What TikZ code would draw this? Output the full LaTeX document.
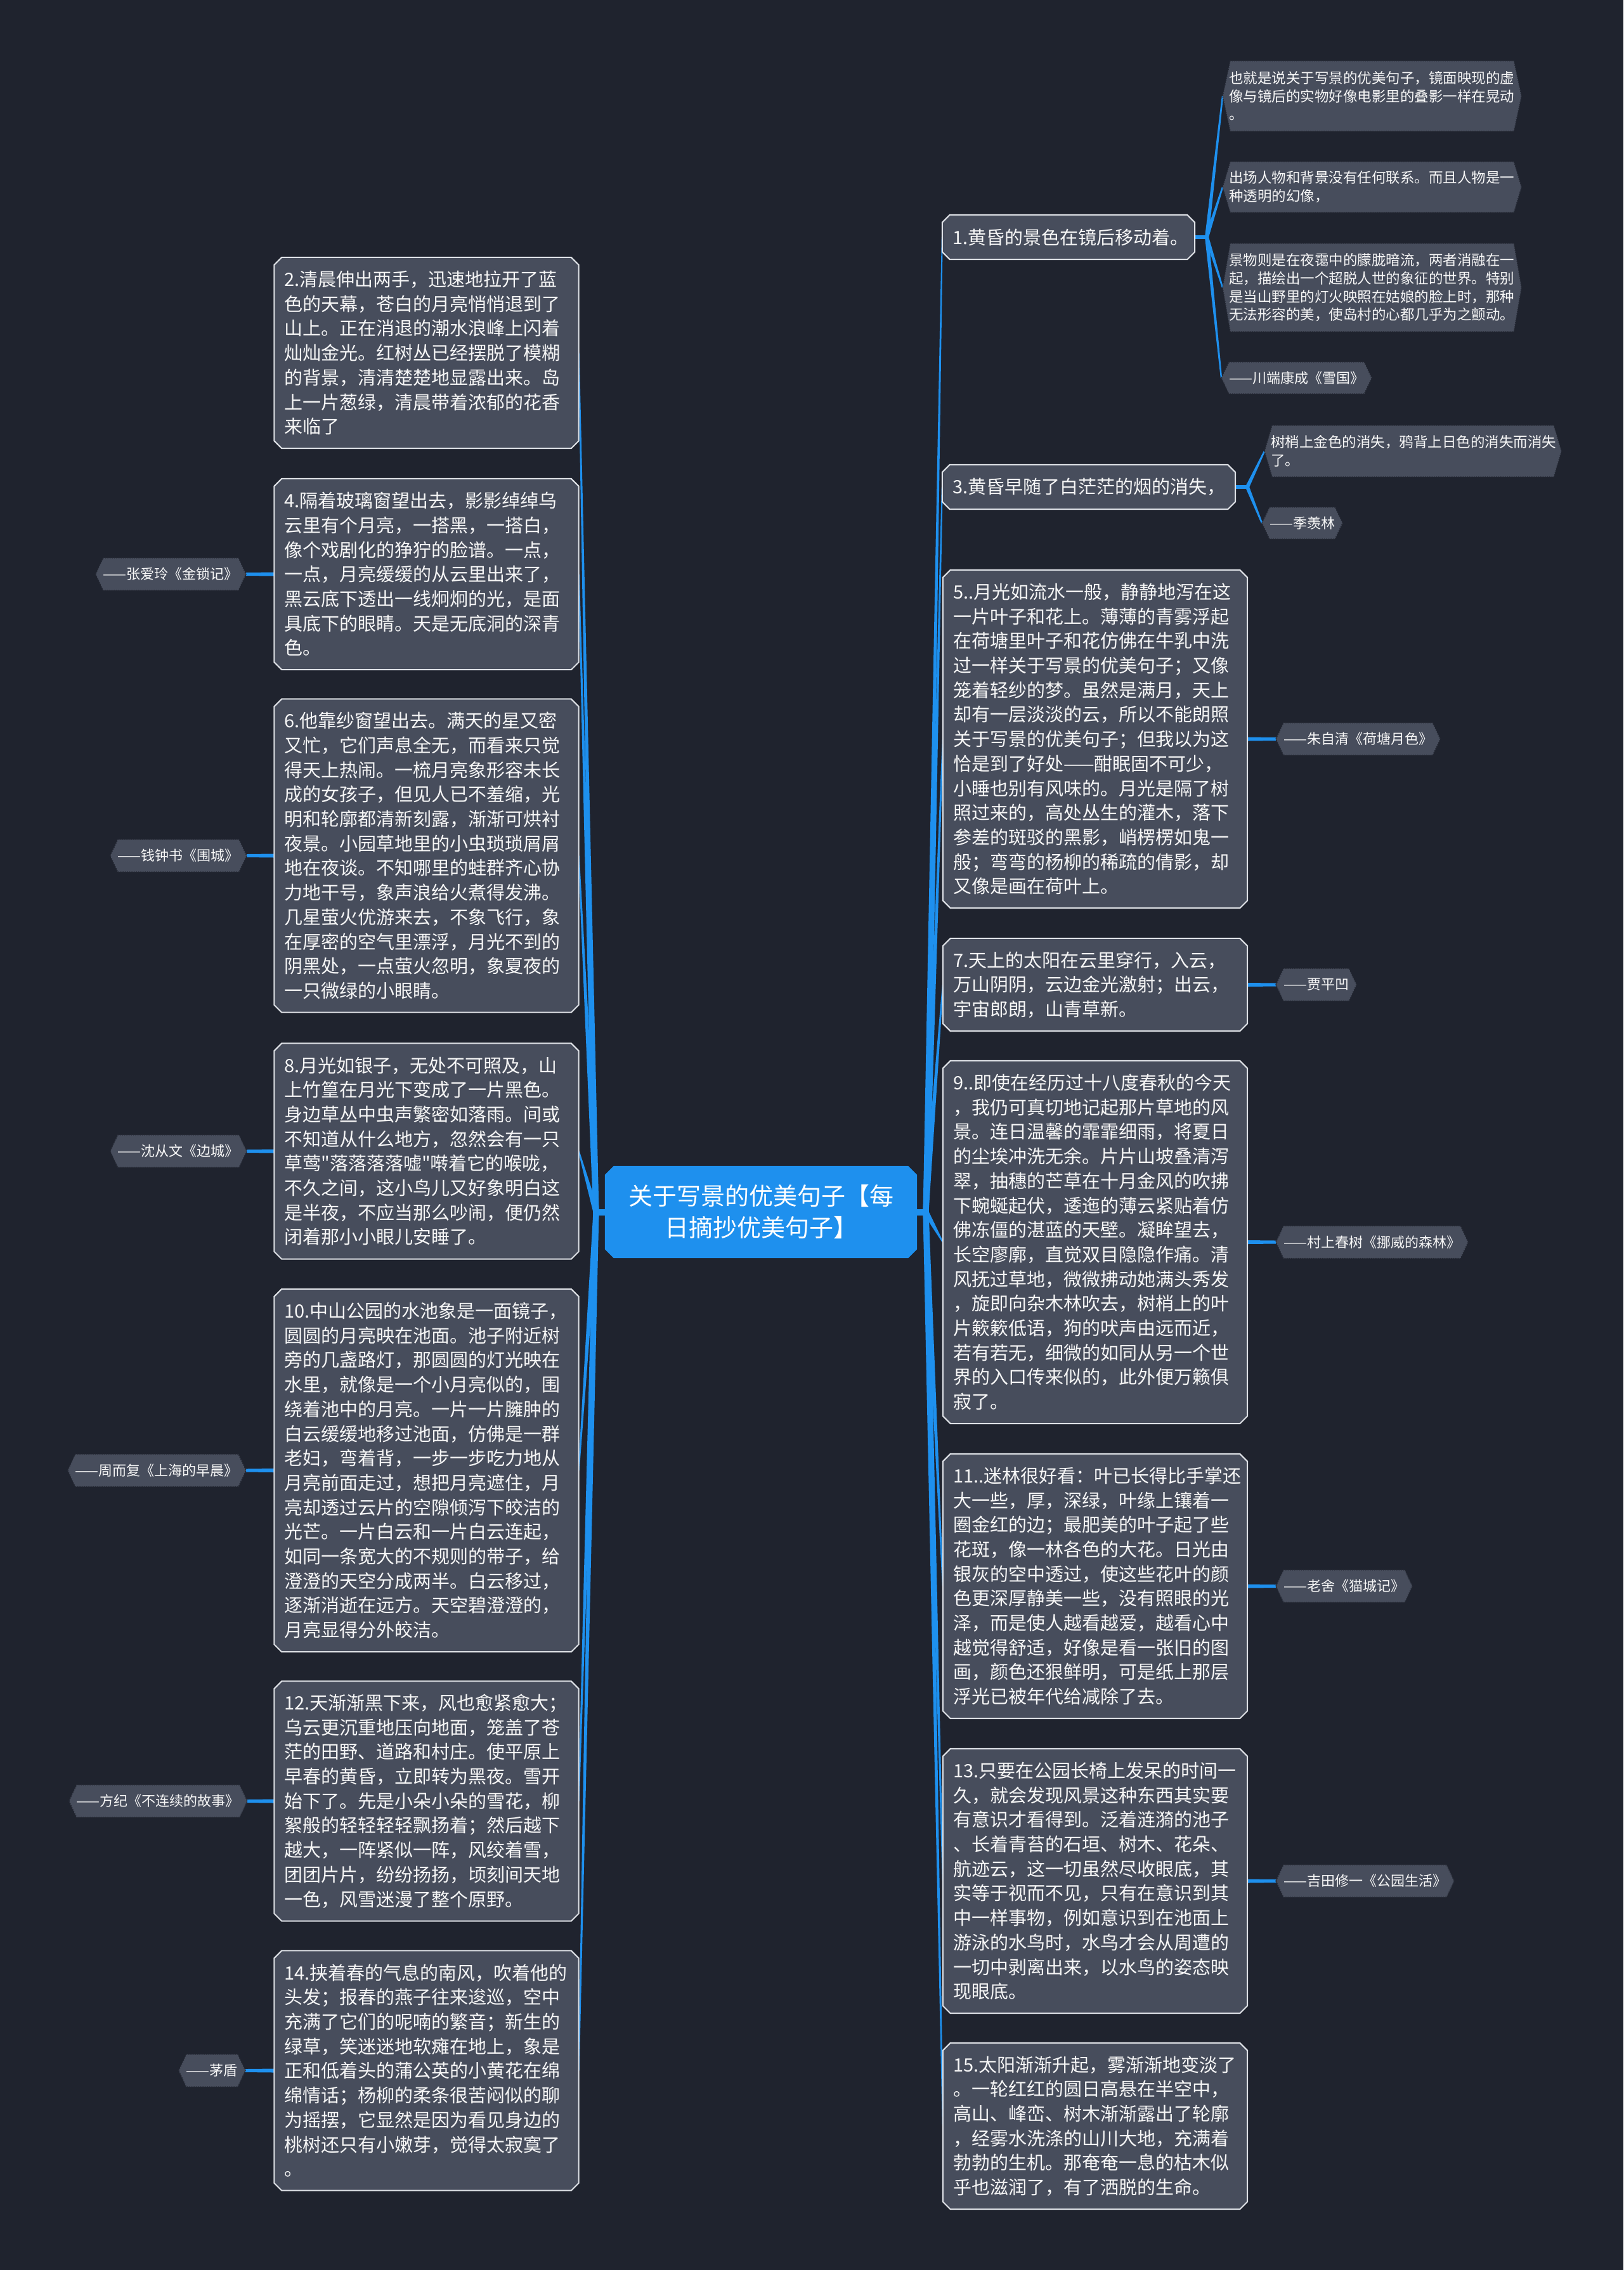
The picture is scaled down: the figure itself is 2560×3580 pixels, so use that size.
\documentclass[tikz,border=0pt]{standalone}
\usepackage{fontspec}
\setmainfont{Noto Sans CJK SC}[Ligatures=TeXOff]
\usetikzlibrary{calc}
\pgfdeclarelayer{back}
\pgfdeclarelayer{mid}
\pgfsetlayers{back,mid,main}
\definecolor{bgc}{RGB}{31,35,46}
\definecolor{boxc}{RGB}{71,77,92}
\definecolor{framec}{RGB}{222,225,230}
\definecolor{bluec}{RGB}{30,144,238}
\definecolor{dotc}{RGB}{36,40,51}
\definecolor{txt}{RGB}{246,246,246}
\newcommand\bframe[3]{%
 \begin{pgfonlayer}{mid}
 \path[#3] ([xshift=#2]#1.north west) -- ([xshift=-#2]#1.north east) -- ([yshift=-#2]#1.north east) -- ([yshift=#2]#1.south east) -- ([xshift=-#2]#1.south east) -- ([xshift=#2]#1.south west) -- ([yshift=#2]#1.south west) -- ([yshift=-#2]#1.north west) -- cycle;
 \end{pgfonlayer}}
\newcommand\hframe[1]{%
 \begin{pgfonlayer}{mid}
 \path[hexf] (#1.west) -- ([xshift=12pt]#1.north west) -- ([xshift=-12pt]#1.north east) -- (#1.east) -- ([xshift=-12pt]#1.south east) -- ([xshift=12pt]#1.south west) -- cycle;
 \end{pgfonlayer}}
\newcommand\tconn[4]{%
 \begin{pgfonlayer}{back}
 \fill[bluec] ($(#1)!#3!90:(#2)$) -- ($(#2)!#4!-90:(#1)$) -- ($(#2)!#4!90:(#1)$) -- ($(#1)!#3!-90:(#2)$) -- cycle;
 \end{pgfonlayer}}
\tikzset{
 frame/.style={fill=boxc, draw=framec, line width=2pt},
 cframe/.style={fill=bluec},
 hexf/.style={fill=boxc, draw=dotc, line width=1.5pt, dotted},
 boxt/.style={inner xsep=16pt, inner ysep=0pt, text width=448pt, align=left, text=txt, font=\fontsize{29}{38.7}\selectfont, minimum height=#1},
 leaft/.style={inner xsep=10pt, inner ysep=0pt, text width=451pt, align=left, text=txt, font=\fontsize{22.5}{28.6}\selectfont, minimum height=#1},
 labt/.style={inner xsep=12pt, inner ysep=0pt, text=txt, font=\fontsize{22}{28.6}\selectfont, minimum height=51pt},
}
\begin{document}
\begin{tikzpicture}[x=1pt,y=-1pt]
\useasboundingbox (0,0) rectangle (2560,3580);
\begin{pgfonlayer}{back}
\fill[bgc] (0,0) rectangle (2560,3580);
\end{pgfonlayer}

% central topic
\node[inner sep=0pt, minimum width=492pt, minimum height=145pt, text width=440pt, align=center, text=white, font=\fontsize{38}{50}\selectfont] (c) at (1200,1911.5) {关于写景的优美句子【每\\日摘抄优美句子】};
\bframe{c}{14pt}{cframe}
\coordinate (rootL) at (940,1911.5);
\coordinate (rootR) at (1460,1911.5);

% left boxes
\node[boxt=301pt] (b2) at (672.5,556.5) {2.清晨伸出两手，迅速地拉开了蓝\\色的天幕，苍白的月亮悄悄退到了\\山上。正在消退的潮水浪峰上闪着\\灿灿金光。红树丛已经摆脱了模糊\\的背景，清清楚楚地显露出来。岛\\上一片葱绿，清晨带着浓郁的花香\\来临了};
\node[boxt=301pt] (b4) at (672.5,905.5) {4.隔着玻璃窗望出去，影影绰绰乌\\云里有个月亮，一搭黑，一搭白，\\像个戏剧化的狰狞的脸谱。一点，\\一点，月亮缓缓的从云里出来了，\\黑云底下透出一线炯炯的光，是面\\具底下的眼睛。天是无底洞的深青\\色。};
\node[boxt=494pt] (b6) at (672.5,1349.5) {6.他靠纱窗望出去。满天的星又密\\又忙，它们声息全无，而看来只觉\\得天上热闹。一梳月亮象形容未长\\成的女孩子，但见人已不羞缩，光\\明和轮廓都清新刻露，渐渐可烘衬\\夜景。小园草地里的小虫琐琐屑屑\\地在夜谈。不知哪里的蛙群齐心协\\力地干号，象声浪给火煮得发沸。\\几星萤火优游来去，不象飞行，象\\在厚密的空气里漂浮，月光不到的\\阴黑处，一点萤火忽明，象夏夜的\\一只微绿的小眼睛。};
\node[boxt=340pt] (b8) at (672.5,1815.5) {8.月光如银子，无处不可照及，山\\上竹篁在月光下变成了一片黑色。\\身边草丛中虫声繁密如落雨。间或\\不知道从什么地方，忽然会有一只\\草莺"落落落落嘘"啭着它的喉咙，\\不久之间，这小鸟儿又好象明白这\\是半夜，不应当那么吵闹，便仍然\\闭着那小小眼儿安睡了。};
\node[boxt=572pt] (b10) at (672.5,2319) {10.中山公园的水池象是一面镜子，\\圆圆的月亮映在池面。池子附近树\\旁的几盏路灯，那圆圆的灯光映在\\水里，就像是一个小月亮似的，围\\绕着池中的月亮。一片一片臃肿的\\白云缓缓地移过池面，仿佛是一群\\老妇，弯着背，一步一步吃力地从\\月亮前面走过，想把月亮遮住，月\\亮却透过云片的空隙倾泻下皎洁的\\光芒。一片白云和一片白云连起，\\如同一条宽大的不规则的带子，给\\澄澄的天空分成两半。白云移过，\\逐渐消逝在远方。天空碧澄澄的，\\月亮显得分外皎洁。};
\node[boxt=378pt] (b12) at (672.5,2840.5) {12.天渐渐黑下来，风也愈紧愈大；\\乌云更沉重地压向地面，笼盖了苍\\茫的田野、道路和村庄。使平原上\\早春的黄昏，立即转为黑夜。雪开\\始下了。先是小朵小朵的雪花，柳\\絮般的轻轻轻轻飘扬着；然后越下\\越大，一阵紧似一阵，风绞着雪，\\团团片片，纷纷扬扬，顷刻间天地\\一色，风雪迷漫了整个原野。};
\node[boxt=378pt] (b14) at (672.5,3265.5) {14.挟着春的气息的南风，吹着他的\\头发；报春的燕子往来逡巡，空中\\充满了它们的呢喃的繁音；新生的\\绿草，笑迷迷地软瘫在地上，象是\\正和低着头的蒲公英的小黄花在绵\\绵情话；杨柳的柔条很苦闷似的聊\\为摇摆，它显然是因为看见身边的\\桃树还只有小嫩芽，觉得太寂寞了\\。};
\foreach \n in {b2,b4,b6,b8,b10,b12,b14} {\bframe{\n}{12pt}{frame}}

% left labels
\node[labt, anchor=east] (l4) at (388,905.5) {——张爱玲《金锁记》};
\node[labt, anchor=east] (l6) at (389,1349.5) {——钱钟书《围城》};
\node[labt, anchor=east] (l8) at (389,1815.5) {——沈从文《边城》};
\node[labt, anchor=east] (l10) at (388,2319) {——周而复《上海的早晨》};
\node[labt, anchor=east] (l12) at (390,2840.5) {——方纪《不连续的故事》};
\node[labt, anchor=east] (l14) at (387,3265.5) {——茅盾};
\foreach \n in {l4,l6,l8,l10,l12,l14} {\hframe{\n}}

% right boxes
\node[boxt=70pt, text width=366pt] (b1) at (1685,374) {1.黄昏的景色在镜后移动着。};
\node[boxt=70pt, text width=430pt] (b3) at (1717,768) {3.黄昏早随了白茫茫的烟的消失，};
\node[boxt=533pt] (b5) at (1727,1165.5) {5..月光如流水一般，静静地泻在这\\一片叶子和花上。薄薄的青雾浮起\\在荷塘里叶子和花仿佛在牛乳中洗\\过一样关于写景的优美句子；又像\\笼着轻纱的梦。虽然是满月，天上\\却有一层淡淡的云，所以不能朗照\\关于写景的优美句子；但我以为这\\恰是到了好处——酣眠固不可少，\\小睡也别有风味的。月光是隔了树\\照过来的，高处丛生的灌木，落下\\参差的斑驳的黑影，峭楞楞如鬼一\\般；弯弯的杨柳的稀疏的倩影，却\\又像是画在荷叶上。};
\node[boxt=146pt] (b7) at (1727,1553) {7.天上的太阳在云里穿行，入云，\\万山阴阴，云边金光激射；出云，\\宇宙郎朗，山青草新。};
\node[boxt=572pt] (b9) at (1727,1959) {9..即使在经历过十八度春秋的今天\\，我仍可真切地记起那片草地的风\\景。连日温馨的霏霏细雨，将夏日\\的尘埃冲洗无余。片片山坡叠清泻\\翠，抽穗的芒草在十月金风的吹拂\\下蜿蜒起伏，逶迤的薄云紧贴着仿\\佛冻僵的湛蓝的天壁。凝眸望去，\\长空廖廓，直觉双目隐隐作痛。清\\风抚过草地，微微拂动她满头秀发\\，旋即向杂木林吹去，树梢上的叶\\片簌簌低语，狗的吠声由远而近，\\若有若无，细微的如同从另一个世\\界的入口传来似的，此外便万籁俱\\寂了。};
\node[boxt=417pt] (b11) at (1727,2501.5) {11..迷林很好看：叶已长得比手掌还\\大一些，厚，深绿，叶缘上镶着一\\圈金红的边；最肥美的叶子起了些\\花斑，像一林各色的大花。日光由\\银灰的空中透过，使这些花叶的颜\\色更深厚静美一些，没有照眼的光\\泽，而是使人越看越爱，越看心中\\越觉得舒适，好像是看一张旧的图\\画，颜色还狠鲜明，可是纸上那层\\浮光已被年代给减除了去。};
\node[boxt=417pt] (b13) at (1727,2966.5) {13.只要在公园长椅上发呆的时间一\\久，就会发现风景这种东西其实要\\有意识才看得到。泛着涟漪的池子\\、长着青苔的石垣、树木、花朵、\\航迹云，这一切虽然尽收眼底，其\\实等于视而不见，只有在意识到其\\中一样事物，例如意识到在池面上\\游泳的水鸟时，水鸟才会从周遭的\\一切中剥离出来，以水鸟的姿态映\\现眼底。};
\node[boxt=262pt] (b15) at (1727,3353) {15.太阳渐渐升起，雾渐渐地变淡了\\。一轮红红的圆日高悬在半空中，\\高山、峰峦、树木渐渐露出了轮廓\\，经雾水洗涤的山川大地，充满着\\勃勃的生机。那奄奄一息的枯木似\\乎也滋润了，有了洒脱的生命。};
\foreach \n in {b1,b3,b5,b7,b9,b11,b13,b15} {\bframe{\n}{12pt}{frame}}

% right labels
\node[labt, anchor=west] (l5) at (2012,1165.5) {——朱自清《荷塘月色》};
\node[labt, anchor=west] (l7) at (2012,1553) {——贾平凹};
\node[labt, anchor=west] (l9) at (2012,1959) {——村上春树《挪威的森林》};
\node[labt, anchor=west] (l11) at (2012,2501.5) {——老舍《猫城记》};
\node[labt, anchor=west] (l13) at (2012,2966.5) {——吉田修一《公园生活》};

% leaves of 1 and 3
\coordinate (j1) at (1903,374);
\coordinate (j3) at (1967,768);
\node[leaft=111pt, anchor=west] (la) at (1928,151.5) {也就是说关于写景的优美句子，镜面映现的虚\\像与镜后的实物好像电影里的叠影一样在晃动\\。};
\node[leaft=80pt, anchor=west] (lb) at (1928,295) {出场人物和背景没有任何联系。而且人物是一\\种透明的幻像，};
\node[leaft=139pt, anchor=west] (lc) at (1928,453.5) {景物则是在夜霭中的朦胧暗流，两者消融在一\\起，描绘出一个超脱人世的象征的世界。特别\\是当山野里的灯火映照在姑娘的脸上时，那种\\无法形容的美，使岛村的心都几乎为之颤动。};
\node[labt, anchor=west, minimum height=50pt] (ld) at (1926,596) {——川端康成《雪国》};
\node[leaft=81pt, anchor=west, text width=448pt] (l3a) at (1994,711.5) {树梢上金色的消失，鸦背上日色的消失而消失\\了。};
\node[labt, anchor=west, minimum height=50pt] (l3b) at (1990,825) {——季羡林};
\foreach \n in {l5,l7,l9,l11,l13,la,lb,lc,ld,l3a,l3b} {\hframe{\n}}

% connectors
\tconn{c.west}{rootL}{5pt}{5pt}
\tconn{c.east}{rootR}{5pt}{5pt}
\begin{pgfonlayer}{back}
\fill[bluec] (rootL) circle (5pt);
\fill[bluec] (rootR) circle (5pt);
\end{pgfonlayer}
\foreach \n in {b2,b4,b6,b8,b10,b12,b14} {\tconn{rootL}{\n.east}{4.5pt}{1pt}}
\foreach \n in {b1,b3,b5,b7,b9,b11,b13,b15} {\tconn{rootR}{\n.west}{4.5pt}{1pt}}
\tconn{b4.west}{l4.east}{3pt}{2.5pt}
\tconn{b6.west}{l6.east}{3pt}{2.5pt}
\tconn{b8.west}{l8.east}{3pt}{2.5pt}
\tconn{b10.west}{l10.east}{3pt}{2.5pt}
\tconn{b12.west}{l12.east}{3pt}{2.5pt}
\tconn{b14.west}{l14.east}{3pt}{2.5pt}
\tconn{b5.east}{l5.west}{3pt}{2.5pt}
\tconn{b7.east}{l7.west}{3pt}{2.5pt}
\tconn{b9.east}{l9.west}{3pt}{2.5pt}
\tconn{b11.east}{l11.west}{3pt}{2.5pt}
\tconn{b13.east}{l13.west}{3pt}{2.5pt}
\tconn{b1.east}{j1}{3pt}{3pt}
\tconn{b3.east}{j3}{3pt}{3pt}
\begin{pgfonlayer}{back}
\fill[bluec] (j1) circle (3pt);
\fill[bluec] (j3) circle (3pt);
\end{pgfonlayer}
\foreach \n in {la,lb,lc,ld} {\tconn{j1}{\n.west}{3pt}{1.2pt}}
\foreach \n in {l3a,l3b} {\tconn{j3}{\n.west}{3pt}{1.2pt}}
\end{tikzpicture}
\end{document}
